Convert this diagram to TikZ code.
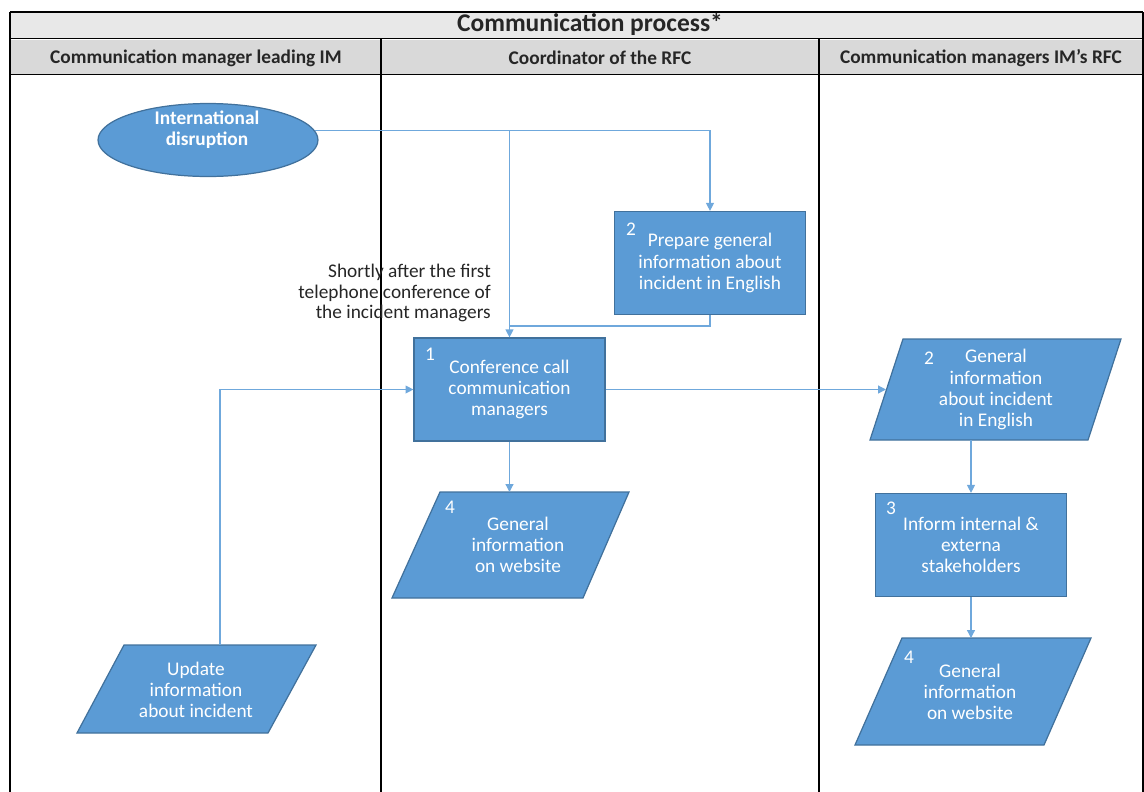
\documentclass[tikz,border=0pt]{standalone}
\usepackage{fontspec}
\setmainfont{Carlito}
\usetikzlibrary{arrows.meta,shapes.geometric,calc}
\definecolor{boxfill}{HTML}{5B9BD5}
\definecolor{boxline}{HTML}{41719C}
\definecolor{conn}{HTML}{6FA8DC}
\definecolor{hdr}{HTML}{D9D9D9}
\begin{document}
\begin{tikzpicture}[x=0.02cm,y=-0.02cm,
  lane/.style={draw=black,line width=0.9pt},
  proc/.style={rectangle,draw=boxline,fill=boxfill,line width=0.7pt,text=white,align=center,font=\fontsize{11}{12}\selectfont,minimum width=3.82cm,minimum height=2.06cm,inner sep=0pt},
  para/.style={draw=boxline,fill=boxfill,line width=0.7pt},
  ptext/.style={text=white,align=center,font=\fontsize{11}{12}\selectfont,inner sep=0pt},
  num/.style={text=white,font=\fontsize{11}{12}\selectfont,inner sep=0pt},
  hd/.style={font=\bfseries\fontsize{11}{12}\selectfont,text=black!85},
  flow/.style={draw=conn,line width=0.7pt},
  arr/.style={flow,-{Triangle[length=4.5pt,width=4.5pt]}}]
\useasboundingbox (0,0) rectangle (1144,792);
% header bands
\fill[hdr!60] (10,12) rectangle (1143,38);
\fill[hdr] (10,40) rectangle (1143,74);
\draw[lane] (10,12) -- (1143,12);
\draw[lane] (10,38.5) -- (1143,38.5);
\draw[lane] (10,74.5) -- (1143,74.5);
\draw[lane] (10,12) -- (10,792);
\draw[lane] (1143,12) -- (1143,792);
\draw[lane] (381,38.5) -- (381,792);
\draw[lane] (819,38.5) -- (819,792);
\node[font=\bfseries\fontsize{14.5}{16}\selectfont,text=black!85] (title) at (590,24) {Communication process*};
\node[hd] (h1) at (196,58) {Communication manager leading IM};
\node[hd] (h2) at (600,58) {Coordinator of the RFC};
\node[hd] (h3) at (981,58) {Communication managers IM's RFC};
% ellipse
\node[ellipse,draw=boxline,fill=boxfill,line width=0.7pt,minimum width=4.4cm,minimum height=1.46cm,inner sep=0pt] (ell) at (208,140) {};
\node[ptext,font=\bfseries\fontsize{11}{12}\selectfont] (ellt) at (207,130) {International\\disruption};
% process boxes
\node[proc] (b2) at (710,263) {Prepare general\\information about\\incident in English};
\node[num] (n2) at (631,229) {2};
\node[proc] (b1) at (509.5,389.5) {Conference call\\communication\\managers};
\node[num] (n1) at (430,354) {1};
\node[proc] (b3) at (971,545) {Inform internal \&\\externa\\stakeholders};
\node[num] (n3) at (891,508) {3};
% parallelograms
\draw[para] (440,492) -- (629,492) -- (583,598) -- (392,598) -- cycle;
\node[ptext] (p4) at (518,544.5) {General\\information\\on website};
\node[num] (n4) at (450,507) {4};
\draw[para] (903,339) -- (1121,339) -- (1088,440) -- (870,440) -- cycle;
\node[ptext] (r2) at (996,389.5) {General\\information\\about incident\\in English};
\node[num] (nr2) at (929,358) {2};
\draw[para] (902,638) -- (1091,638) -- (1044,745) -- (855,745) -- cycle;
\node[ptext] (r4) at (970,692) {General\\information\\on website};
\node[num] (nr4) at (909,657) {4};
\draw[para] (124,645) -- (316,645) -- (268,733) -- (77,733) -- cycle;
\node[ptext] (up) at (196,689.5) {Update\\information\\about incident};
% note
\node[align=right,anchor=east,font=\fontsize{11}{11.6}\selectfont,text=black!85] (note) at (497,293) {Shortly after the first\\telephone conference of\\the incident managers};
% coordinates
\coordinate (j1) at (509.5,130);
\coordinate (m) at (509.5,326);
\coordinate (p4n) at (509.5,492);
\coordinate (upn) at (220,645);
\coordinate (r2w) at (886,389.5);
\coordinate (r2s) at (971,440);
\coordinate (r4n) at (971,638);
% connectors
\draw[arr] (ell.5) -| (b2.north);
\draw[arr] (j1) -- (b1.north);
\draw[flow] (b2.south) |- (m);
\draw[arr] (upn) |- (b1.west);
\draw[arr] (b1.east) -- (r2w);
\draw[arr] (b1.south) -- (p4n);
\draw[arr] (r2s) -- (b3.north);
\draw[arr] (b3.south) -- (r4n);
\end{tikzpicture}
\end{document}
